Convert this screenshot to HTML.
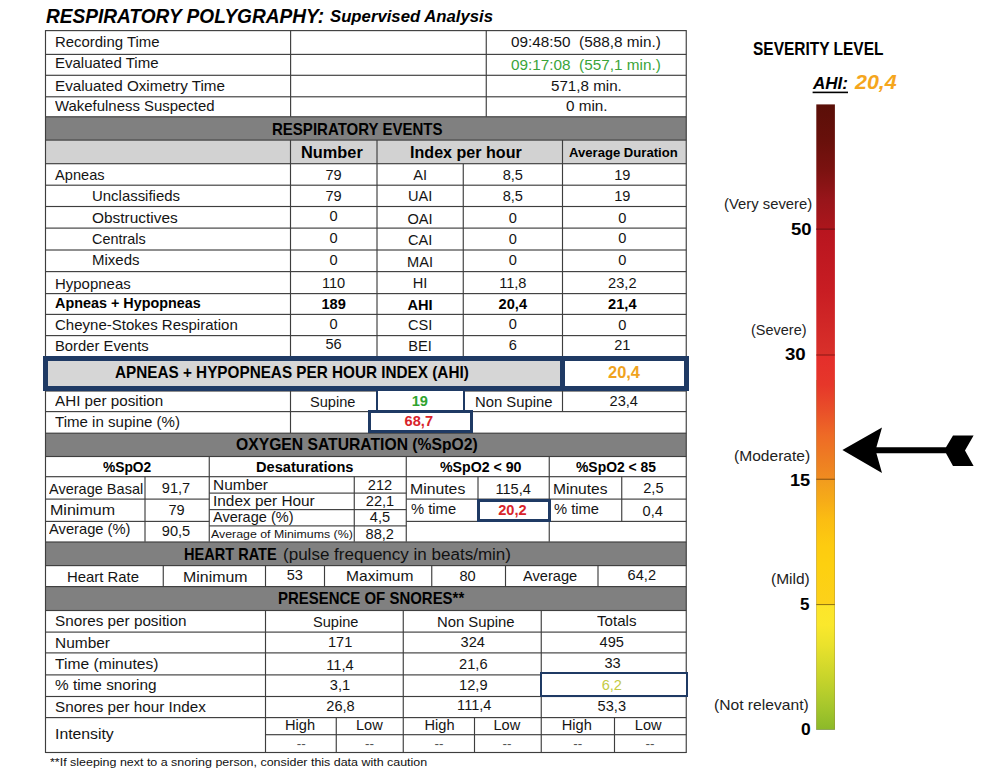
<!DOCTYPE html>
<html><head><meta charset="utf-8"><title>Respiratory Polygraphy</title>
<style>
html,body{margin:0;padding:0;background:#fff;}
body{width:1000px;height:782px;position:relative;overflow:hidden;font-family:"Liberation Sans",sans-serif;}
.r{position:absolute;}
.t{position:absolute;white-space:pre;line-height:1;transform-origin:0 0;}
.b{position:absolute;box-sizing:border-box;border-style:solid;border-color:#1f3a64;}
</style></head><body>
<svg class="r" style="left:0;top:0" width="700" height="782" viewBox="0 0 700 782">
<rect x="45.50" y="116.80" width="640.75" height="23.30" fill="#808080"/>
<rect x="45.50" y="140.10" width="640.75" height="23.60" fill="#d2d2d2"/>
<rect x="45.50" y="433.20" width="640.75" height="23.30" fill="#808080"/>
<rect x="45.50" y="542.00" width="640.75" height="23.60" fill="#808080"/>
<rect x="45.50" y="586.60" width="640.75" height="23.90" fill="#808080"/>
<rect x="45.50" y="30.03" width="640.75" height="1.15" fill="#3e3e3e"/>
<rect x="45.50" y="53.82" width="640.75" height="1.15" fill="#3e3e3e"/>
<rect x="45.50" y="74.72" width="640.75" height="1.15" fill="#3e3e3e"/>
<rect x="45.50" y="96.22" width="640.75" height="1.15" fill="#3e3e3e"/>
<rect x="45.50" y="116.22" width="640.75" height="1.15" fill="#3e3e3e"/>
<rect x="45.50" y="139.53" width="640.75" height="1.15" fill="#3e3e3e"/>
<rect x="45.50" y="163.12" width="640.75" height="1.15" fill="#3e3e3e"/>
<rect x="45.50" y="184.62" width="640.75" height="1.15" fill="#3e3e3e"/>
<rect x="45.50" y="205.93" width="640.75" height="1.15" fill="#3e3e3e"/>
<rect x="45.50" y="227.53" width="640.75" height="1.15" fill="#3e3e3e"/>
<rect x="45.50" y="249.43" width="640.75" height="1.15" fill="#3e3e3e"/>
<rect x="45.50" y="271.03" width="640.75" height="1.15" fill="#3e3e3e"/>
<rect x="45.50" y="293.03" width="640.75" height="1.15" fill="#3e3e3e"/>
<rect x="45.50" y="313.82" width="640.75" height="1.15" fill="#3e3e3e"/>
<rect x="45.50" y="335.03" width="640.75" height="1.15" fill="#3e3e3e"/>
<rect x="45.50" y="411.03" width="640.75" height="1.15" fill="#3e3e3e"/>
<rect x="45.50" y="432.62" width="640.75" height="1.15" fill="#3e3e3e"/>
<rect x="45.50" y="455.93" width="640.75" height="1.15" fill="#3e3e3e"/>
<rect x="45.50" y="476.12" width="640.75" height="1.15" fill="#3e3e3e"/>
<rect x="45.50" y="541.42" width="640.75" height="1.15" fill="#3e3e3e"/>
<rect x="45.50" y="565.02" width="640.75" height="1.15" fill="#3e3e3e"/>
<rect x="45.50" y="586.02" width="640.75" height="1.15" fill="#3e3e3e"/>
<rect x="45.50" y="609.92" width="640.75" height="1.15" fill="#3e3e3e"/>
<rect x="45.50" y="631.52" width="640.75" height="1.15" fill="#3e3e3e"/>
<rect x="45.50" y="652.32" width="640.75" height="1.15" fill="#3e3e3e"/>
<rect x="45.50" y="674.32" width="640.75" height="1.15" fill="#3e3e3e"/>
<rect x="45.50" y="695.92" width="640.75" height="1.15" fill="#3e3e3e"/>
<rect x="45.50" y="717.02" width="640.75" height="1.15" fill="#3e3e3e"/>
<rect x="45.50" y="751.92" width="640.75" height="1.15" fill="#3e3e3e"/>
<rect x="45.50" y="390.43" width="640.75" height="1.15" fill="#3e3e3e"/>
<rect x="44.92" y="30.10" width="1.15" height="722.90" fill="#3e3e3e"/>
<rect x="685.67" y="30.10" width="1.15" height="722.90" fill="#3e3e3e"/>
<rect x="290.03" y="30.60" width="1.15" height="86.20" fill="#3e3e3e"/>
<rect x="485.68" y="30.60" width="1.15" height="86.20" fill="#3e3e3e"/>
<rect x="289.93" y="140.00" width="1.15" height="24.00" fill="#3e3e3e"/>
<rect x="376.43" y="140.00" width="1.15" height="24.00" fill="#3e3e3e"/>
<rect x="561.92" y="140.00" width="1.15" height="24.00" fill="#3e3e3e"/>
<rect x="289.93" y="164.00" width="1.15" height="192.00" fill="#3e3e3e"/>
<rect x="376.43" y="164.00" width="1.15" height="192.00" fill="#3e3e3e"/>
<rect x="462.68" y="164.00" width="1.15" height="192.00" fill="#3e3e3e"/>
<rect x="561.92" y="164.00" width="1.15" height="192.00" fill="#3e3e3e"/>
<rect x="289.93" y="391.00" width="1.15" height="42.00" fill="#3e3e3e"/>
<rect x="561.92" y="391.00" width="1.15" height="20.75" fill="#3e3e3e"/>
<rect x="208.68" y="456.25" width="1.15" height="85.50" fill="#3e3e3e"/>
<rect x="405.68" y="456.25" width="1.15" height="85.50" fill="#3e3e3e"/>
<rect x="548.67" y="456.25" width="1.15" height="85.50" fill="#3e3e3e"/>
<rect x="144.43" y="476.75" width="1.15" height="65.00" fill="#3e3e3e"/>
<rect x="353.68" y="476.75" width="1.15" height="65.00" fill="#3e3e3e"/>
<rect x="477.43" y="476.75" width="1.15" height="44.50" fill="#3e3e3e"/>
<rect x="621.17" y="476.75" width="1.15" height="44.50" fill="#3e3e3e"/>
<rect x="45.50" y="498.53" width="163.75" height="1.15" fill="#3e3e3e"/>
<rect x="406.25" y="498.53" width="280.00" height="1.15" fill="#3e3e3e"/>
<rect x="45.50" y="520.82" width="163.75" height="1.15" fill="#3e3e3e"/>
<rect x="406.25" y="520.82" width="280.00" height="1.15" fill="#3e3e3e"/>
<rect x="209.25" y="492.53" width="197.00" height="1.15" fill="#3e3e3e"/>
<rect x="209.25" y="509.03" width="197.00" height="1.15" fill="#3e3e3e"/>
<rect x="209.25" y="525.32" width="197.00" height="1.15" fill="#3e3e3e"/>
<rect x="162.68" y="565.50" width="1.15" height="21.50" fill="#3e3e3e"/>
<rect x="264.93" y="565.50" width="1.15" height="21.50" fill="#3e3e3e"/>
<rect x="323.93" y="565.50" width="1.15" height="21.50" fill="#3e3e3e"/>
<rect x="431.18" y="565.50" width="1.15" height="21.50" fill="#3e3e3e"/>
<rect x="504.93" y="565.50" width="1.15" height="21.50" fill="#3e3e3e"/>
<rect x="597.42" y="565.50" width="1.15" height="21.50" fill="#3e3e3e"/>
<rect x="264.93" y="610.50" width="1.15" height="142.00" fill="#3e3e3e"/>
<rect x="402.68" y="610.50" width="1.15" height="142.00" fill="#3e3e3e"/>
<rect x="540.67" y="610.50" width="1.15" height="142.00" fill="#3e3e3e"/>
<rect x="335.68" y="717.50" width="1.15" height="35.00" fill="#3e3e3e"/>
<rect x="473.93" y="717.50" width="1.15" height="35.00" fill="#3e3e3e"/>
<rect x="613.92" y="717.50" width="1.15" height="35.00" fill="#3e3e3e"/>
<rect x="265.50" y="734.12" width="420.75" height="1.15" fill="#3e3e3e"/>
</svg>
<div class="r" style="left:45px;top:358px;width:516px;height:31px;background:#d6d6d6"></div>
<div class="r" style="left:559.75px;top:356px;width:5px;height:35px;background:#1f3a64"></div>
<div class="b" style="left:43.00px;top:356.00px;width:645.75px;height:35.00px;border-width:5.00px;"></div>
<div class="b" style="left:375.60px;top:389.00px;width:89.40px;height:23.00px;border-width:2.50px;background:#fff;"></div>
<div class="b" style="left:367.90px;top:410.40px;width:105.00px;height:23.10px;border-width:3.00px;background:#fff;"></div>
<div class="b" style="left:476.75px;top:498.50px;width:73.75px;height:23.75px;border-width:3.00px;background:#fff;"></div>
<div class="b" style="left:540.20px;top:672.40px;width:147.80px;height:24.80px;border-width:2.70px;background:#fff;"></div>
<svg class="r" style="left:700px;top:0" width="300" height="782" viewBox="700 0 300 782">
<defs><linearGradient id="g" x1="0" y1="0" x2="0" y2="1">
<stop offset="0.0000" stop-color="#5a0f08"/>
<stop offset="0.0570" stop-color="#68100b"/>
<stop offset="0.1050" stop-color="#7b1210"/>
<stop offset="0.1530" stop-color="#98151a"/>
<stop offset="0.1990" stop-color="#ac161c"/>
<stop offset="0.2006" stop-color="#b8151f"/>
<stop offset="0.2970" stop-color="#c81d23"/>
<stop offset="0.3997" stop-color="#d9302a"/>
<stop offset="0.4016" stop-color="#e42e2b"/>
<stop offset="0.4490" stop-color="#e6372a"/>
<stop offset="0.4890" stop-color="#e94f29"/>
<stop offset="0.5290" stop-color="#ee6a26"/>
<stop offset="0.5690" stop-color="#ee7e22"/>
<stop offset="0.5994" stop-color="#f08c20"/>
<stop offset="0.6010" stop-color="#f29c1e"/>
<stop offset="0.6330" stop-color="#f6ab18"/>
<stop offset="0.6650" stop-color="#fbbd12"/>
<stop offset="0.7050" stop-color="#fdcb10"/>
<stop offset="0.7370" stop-color="#fdd010"/>
<stop offset="0.7994" stop-color="#fcd11a"/>
<stop offset="0.8013" stop-color="#fde52a"/>
<stop offset="0.8330" stop-color="#fae82c"/>
<stop offset="0.8650" stop-color="#eae22c"/>
<stop offset="0.9210" stop-color="#c5d32b"/>
<stop offset="0.9530" stop-color="#aeca2c"/>
<stop offset="0.9850" stop-color="#96bf2a"/>
<stop offset="1.0000" stop-color="#8cb929"/>
</linearGradient></defs>
<rect x="816.3" y="104.4" width="18.6" height="625" fill="url(#g)"/>
<rect x="816.3" y="380" width="0.6" height="349.6" fill="#7a5a10" opacity="0.45"/>
<rect x="834.2" y="380" width="0.6" height="349.6" fill="#7a5a10" opacity="0.45"/>
<rect x="816.3" y="729" width="18.5" height="0.8" fill="#5d7a1c" opacity="0.7"/>
<rect x="816.3" y="228.5" width="18.5" height="1.3" fill="#6e1014" opacity="0.85"/>
<rect x="816.3" y="354.4" width="18.5" height="1.2" fill="#8a1a16" opacity="0.85"/>
<rect x="816.3" y="478.7" width="18.5" height="1.1" fill="#7a4a10" opacity="0.85"/>
<rect x="816.3" y="604" width="18.5" height="1.1" fill="#7a5f10" opacity="0.8"/>
<rect x="812.6" y="91.6" width="35.4" height="1.6" fill="#000"/>
<path d="M842.4 450 L882 427.6 L876.4 447.2 L946 447.2 L953 435.6 L973.6 435.6 L965 450.5 L973.6 466 L953 466 L946 453.2 L876.4 453.2 L882 473 Z" fill="#000"/>
</svg>
<span class="t" style="left:46.00px;top:6.00px;font-size:20.30px;color:#000;font-weight:700;font-style:italic;transform:scaleX(0.9403);">RESPIRATORY POLYGRAPHY:</span>
<span class="t" style="left:330.00px;top:8.00px;font-size:17.00px;color:#000;font-weight:700;font-style:italic;transform:scaleX(0.9839);">Supervised Analysis</span>
<span class="t" style="left:55.10px;top:35.00px;font-size:14.60px;color:#141414;transform:scaleX(1.0225);">Recording Time</span>
<span class="t" style="left:55.10px;top:56.00px;font-size:14.60px;color:#141414;transform:scaleX(1.0289);">Evaluated Time</span>
<span class="t" style="left:55.10px;top:79.00px;font-size:14.60px;color:#141414;transform:scaleX(1.0427);">Evaluated Oximetry Time</span>
<span class="t" style="left:55.10px;top:99.00px;font-size:14.60px;color:#141414;transform:scaleX(1.0222);">Wakefulness Suspected</span>
<span class="t" style="left:510.75px;top:35.00px;font-size:14.60px;color:#141414;transform:scaleX(1.0488);">09:48:50  (588,8 min.)</span>
<span class="t" style="left:510.75px;top:58.00px;font-size:14.60px;color:#3aa43a;transform:scaleX(1.0488);">09:17:08  (557,1 min.)</span>
<span class="t" style="left:551.20px;top:79.00px;font-size:14.60px;color:#141414;transform:scaleX(1.0388);">571,8 min.</span>
<span class="t" style="left:565.70px;top:99.00px;font-size:14.60px;color:#141414;transform:scaleX(1.0465);">0 min.</span>
<span class="t" style="left:272.00px;top:121.00px;font-size:16.20px;color:#000;font-weight:700;transform:scaleX(0.9276);">RESPIRATORY EVENTS</span>
<span class="t" style="left:301.25px;top:144.00px;font-size:16.20px;color:#000;font-weight:700;transform:scaleX(1.0095);">Number</span>
<span class="t" style="left:409.50px;top:144.00px;font-size:16.20px;color:#000;font-weight:700;transform:scaleX(0.9939);">Index per hour</span>
<span class="t" style="left:568.75px;top:147.00px;font-size:12.90px;color:#000;font-weight:700;transform:scaleX(1.0165);">Average Duration</span>
<span class="t" style="left:55.10px;top:168.00px;font-size:14.60px;color:#141414;">Apneas</span>
<span class="t" style="left:325.48px;top:168.00px;font-size:14.60px;color:#141414;">79</span>
<span class="t" style="left:413.20px;top:168.00px;font-size:14.60px;color:#141414;">AI</span>
<span class="t" style="left:502.65px;top:168.00px;font-size:14.60px;color:#141414;">8,5</span>
<span class="t" style="left:614.18px;top:168.00px;font-size:14.60px;color:#141414;">19</span>
<span class="t" style="left:92.00px;top:189.00px;font-size:14.60px;color:#141414;transform:scaleX(1.0234);">Unclassifieds</span>
<span class="t" style="left:325.48px;top:189.00px;font-size:14.60px;color:#141414;">79</span>
<span class="t" style="left:407.94px;top:189.00px;font-size:14.60px;color:#141414;">UAI</span>
<span class="t" style="left:502.65px;top:189.00px;font-size:14.60px;color:#141414;">8,5</span>
<span class="t" style="left:614.18px;top:189.00px;font-size:14.60px;color:#141414;">19</span>
<span class="t" style="left:92.00px;top:211.00px;font-size:14.60px;color:#141414;transform:scaleX(1.0572);">Obstructives</span>
<span class="t" style="left:329.54px;top:209.00px;font-size:14.60px;color:#141414;">0</span>
<span class="t" style="left:407.53px;top:212.00px;font-size:14.60px;color:#141414;">OAI</span>
<span class="t" style="left:508.74px;top:211.00px;font-size:14.60px;color:#141414;">0</span>
<span class="t" style="left:618.24px;top:211.00px;font-size:14.60px;color:#141414;">0</span>
<span class="t" style="left:92.00px;top:232.00px;font-size:14.60px;color:#141414;transform:scaleX(0.9891);">Centrals</span>
<span class="t" style="left:329.54px;top:231.00px;font-size:14.60px;color:#141414;">0</span>
<span class="t" style="left:407.94px;top:233.00px;font-size:14.60px;color:#141414;">CAI</span>
<span class="t" style="left:508.74px;top:232.00px;font-size:14.60px;color:#141414;">0</span>
<span class="t" style="left:618.24px;top:231.00px;font-size:14.60px;color:#141414;">0</span>
<span class="t" style="left:92.00px;top:253.00px;font-size:14.60px;color:#141414;transform:scaleX(1.0274);">Mixeds</span>
<span class="t" style="left:329.54px;top:253.00px;font-size:14.60px;color:#141414;">0</span>
<span class="t" style="left:407.12px;top:255.00px;font-size:14.60px;color:#141414;">MAI</span>
<span class="t" style="left:508.74px;top:253.00px;font-size:14.60px;color:#141414;">0</span>
<span class="t" style="left:618.24px;top:253.00px;font-size:14.60px;color:#141414;">0</span>
<span class="t" style="left:55.10px;top:277.00px;font-size:14.60px;color:#141414;transform:scaleX(1.0258);">Hypopneas</span>
<span class="t" style="left:321.97px;top:276.00px;font-size:14.60px;color:#141414;">110</span>
<span class="t" style="left:412.80px;top:276.00px;font-size:14.60px;color:#141414;">HI</span>
<span class="t" style="left:499.14px;top:276.00px;font-size:14.60px;color:#141414;">11,8</span>
<span class="t" style="left:608.10px;top:276.00px;font-size:14.60px;color:#141414;">23,2</span>
<span class="t" style="left:55.10px;top:296.00px;font-size:14.60px;color:#000;font-weight:700;transform:scaleX(0.9847);">Apneas + Hypopneas</span>
<span class="t" style="left:321.42px;top:297.00px;font-size:14.60px;color:#000;font-weight:700;">189</span>
<span class="t" style="left:407.53px;top:298.00px;font-size:14.60px;color:#000;font-weight:700;">AHI</span>
<span class="t" style="left:498.60px;top:297.00px;font-size:14.60px;color:#000;font-weight:700;">20,4</span>
<span class="t" style="left:608.10px;top:297.00px;font-size:14.60px;color:#000;font-weight:700;">21,4</span>
<span class="t" style="left:55.10px;top:318.00px;font-size:14.60px;color:#141414;transform:scaleX(1.0287);">Cheyne-Stokes Respiration</span>
<span class="t" style="left:329.54px;top:317.00px;font-size:14.60px;color:#141414;">0</span>
<span class="t" style="left:407.94px;top:318.00px;font-size:14.60px;color:#141414;">CSI</span>
<span class="t" style="left:508.74px;top:317.00px;font-size:14.60px;color:#141414;">0</span>
<span class="t" style="left:618.24px;top:318.00px;font-size:14.60px;color:#141414;">0</span>
<span class="t" style="left:55.10px;top:339.00px;font-size:14.60px;color:#141414;transform:scaleX(1.0137);">Border Events</span>
<span class="t" style="left:325.48px;top:337.00px;font-size:14.60px;color:#141414;">56</span>
<span class="t" style="left:408.33px;top:339.00px;font-size:14.60px;color:#141414;">BEI</span>
<span class="t" style="left:508.74px;top:338.00px;font-size:14.60px;color:#141414;">6</span>
<span class="t" style="left:614.18px;top:338.00px;font-size:14.60px;color:#141414;">21</span>
<span class="t" style="left:114.50px;top:365.00px;font-size:15.70px;color:#000;font-weight:700;transform:scaleX(0.9744);">APNEAS + HYPOPNEAS PER HOUR INDEX (AHI)</span>
<span class="t" style="left:607.80px;top:365.00px;font-size:15.70px;color:#f0a31e;font-weight:700;transform:scaleX(1.0476);">20,4</span>
<span class="t" style="left:55.10px;top:394.00px;font-size:14.60px;color:#141414;transform:scaleX(1.0424);">AHI per position</span>
<span class="t" style="left:309.50px;top:395.00px;font-size:14.60px;color:#141414;transform:scaleX(1.0010);">Supine</span>
<span class="t" style="left:411.68px;top:394.00px;font-size:14.60px;color:#2fa32f;font-weight:700;">19</span>
<span class="t" style="left:475.00px;top:395.00px;font-size:14.60px;color:#141414;transform:scaleX(1.0160);">Non Supine</span>
<span class="t" style="left:609.55px;top:394.00px;font-size:14.60px;color:#141414;">23,4</span>
<span class="t" style="left:55.10px;top:415.00px;font-size:14.60px;color:#141414;transform:scaleX(1.0320);">Time in supine (%)</span>
<span class="t" style="left:404.60px;top:414.00px;font-size:14.60px;color:#d8232a;font-weight:700;">68,7</span>
<span class="t" style="left:236.25px;top:436.00px;font-size:16.20px;color:#000;font-weight:700;transform:scaleX(0.9692);">OXYGEN SATURATION (%SpO2)</span>
<span class="t" style="left:103.00px;top:460.00px;font-size:14.00px;color:#000;font-weight:700;transform:scaleX(0.9844);">%SpO2</span>
<span class="t" style="left:255.50px;top:460.00px;font-size:14.00px;color:#000;font-weight:700;transform:scaleX(1.0444);">Desaturations</span>
<span class="t" style="left:440.00px;top:460.00px;font-size:14.00px;color:#000;font-weight:700;transform:scaleX(1.0118);">%SpO2 &lt; 90</span>
<span class="t" style="left:576.25px;top:460.00px;font-size:14.00px;color:#000;font-weight:700;transform:scaleX(0.9932);">%SpO2 &lt; 85</span>
<span class="t" style="left:48.50px;top:482.00px;font-size:14.60px;color:#141414;transform:scaleX(0.9952);">Average Basal</span>
<span class="t" style="left:161.80px;top:481.00px;font-size:14.60px;color:#141414;">91,7</span>
<span class="t" style="left:49.50px;top:503.00px;font-size:14.60px;color:#141414;transform:scaleX(1.0982);">Minimum</span>
<span class="t" style="left:168.38px;top:503.00px;font-size:14.60px;color:#141414;">79</span>
<span class="t" style="left:48.50px;top:522.00px;font-size:14.60px;color:#141414;transform:scaleX(1.0081);">Average (%)</span>
<span class="t" style="left:161.80px;top:524.00px;font-size:14.60px;color:#141414;">90,5</span>
<span class="t" style="left:212.50px;top:478.00px;font-size:14.60px;color:#141414;transform:scaleX(1.0596);">Number</span>
<span class="t" style="left:367.82px;top:478.00px;font-size:14.60px;color:#141414;">212</span>
<span class="t" style="left:212.50px;top:494.00px;font-size:14.60px;color:#141414;transform:scaleX(1.0539);">Index per Hour</span>
<span class="t" style="left:365.80px;top:494.00px;font-size:14.60px;color:#141414;">22,1</span>
<span class="t" style="left:212.50px;top:510.00px;font-size:14.60px;color:#141414;transform:scaleX(0.9957);">Average (%)</span>
<span class="t" style="left:369.85px;top:510.00px;font-size:14.60px;color:#141414;">4,5</span>
<span class="t" style="left:211.25px;top:528.00px;font-size:11.60px;color:#141414;transform:scaleX(1.0645);">Average of Minimums (%)</span>
<span class="t" style="left:365.55px;top:527.00px;font-size:14.60px;color:#141414;">88,2</span>
<span class="t" style="left:410.20px;top:482.00px;font-size:14.60px;color:#141414;transform:scaleX(1.0820);">Minutes</span>
<span class="t" style="left:495.38px;top:482.00px;font-size:14.60px;color:#141414;">115,4</span>
<span class="t" style="left:410.70px;top:502.00px;font-size:14.60px;color:#141414;transform:scaleX(1.0110);">% time</span>
<span class="t" style="left:498.20px;top:503.00px;font-size:14.60px;color:#d8232a;font-weight:700;">20,2</span>
<span class="t" style="left:552.50px;top:482.00px;font-size:14.60px;color:#141414;transform:scaleX(1.0663);">Minutes</span>
<span class="t" style="left:643.25px;top:481.00px;font-size:14.60px;color:#141414;">2,5</span>
<span class="t" style="left:553.75px;top:502.00px;font-size:14.60px;color:#141414;transform:scaleX(1.0088);">% time</span>
<span class="t" style="left:642.60px;top:504.00px;font-size:14.60px;color:#141414;">0,4</span>
<span class="t" style="left:184.25px;top:546.00px;font-size:16.20px;color:#000;font-weight:700;transform:scaleX(0.8989);">HEART RATE</span>
<span class="t" style="left:282.80px;top:547.00px;font-size:16.00px;color:#111;transform:scaleX(1.0638);">(pulse frequency in beats/min)</span>
<span class="t" style="left:66.75px;top:570.00px;font-size:14.60px;color:#141414;transform:scaleX(1.0201);">Heart Rate</span>
<span class="t" style="left:183.00px;top:570.00px;font-size:14.60px;color:#141414;transform:scaleX(1.0898);">Minimum</span>
<span class="t" style="left:286.63px;top:568.00px;font-size:14.60px;color:#141414;">53</span>
<span class="t" style="left:346.25px;top:569.00px;font-size:14.60px;color:#141414;transform:scaleX(1.0672);">Maximum</span>
<span class="t" style="left:459.48px;top:569.00px;font-size:14.60px;color:#141414;">80</span>
<span class="t" style="left:523.25px;top:569.00px;font-size:14.60px;color:#141414;transform:scaleX(1.0029);">Average</span>
<span class="t" style="left:627.60px;top:568.00px;font-size:14.60px;color:#141414;">64,2</span>
<span class="t" style="left:278.00px;top:590.00px;font-size:16.20px;color:#000;font-weight:700;transform:scaleX(0.9243);">PRESENCE OF SNORES**</span>
<span class="t" style="left:55.10px;top:614.00px;font-size:14.60px;color:#141414;transform:scaleX(1.0457);">Snores per position</span>
<span class="t" style="left:55.10px;top:636.00px;font-size:14.60px;color:#141414;transform:scaleX(1.0596);">Number</span>
<span class="t" style="left:55.10px;top:657.00px;font-size:14.60px;color:#141414;transform:scaleX(1.0696);">Time (minutes)</span>
<span class="t" style="left:55.10px;top:678.00px;font-size:14.60px;color:#141414;transform:scaleX(1.0515);">% time snoring</span>
<span class="t" style="left:55.10px;top:700.00px;font-size:14.60px;color:#141414;transform:scaleX(1.0439);">Snores per hour Index</span>
<span class="t" style="left:55.10px;top:727.00px;font-size:14.60px;color:#141414;transform:scaleX(1.0808);">Intensity</span>
<span class="t" style="left:312.50px;top:615.00px;font-size:14.60px;color:#141414;transform:scaleX(1.0010);">Supine</span>
<span class="t" style="left:327.92px;top:635.00px;font-size:14.60px;color:#141414;">171</span>
<span class="t" style="left:326.34px;top:658.00px;font-size:14.60px;color:#141414;">11,4</span>
<span class="t" style="left:329.85px;top:678.00px;font-size:14.60px;color:#141414;">3,1</span>
<span class="t" style="left:326.30px;top:699.00px;font-size:14.60px;color:#141414;">26,8</span>
<span class="t" style="left:437.40px;top:615.00px;font-size:14.60px;color:#141414;transform:scaleX(1.0173);">Non Supine</span>
<span class="t" style="left:460.52px;top:635.00px;font-size:14.60px;color:#141414;">324</span>
<span class="t" style="left:459.10px;top:657.00px;font-size:14.60px;color:#141414;">21,6</span>
<span class="t" style="left:459.10px;top:678.00px;font-size:14.60px;color:#141414;">12,9</span>
<span class="t" style="left:457.12px;top:698.00px;font-size:14.60px;color:#141414;">111,4</span>
<span class="t" style="left:596.50px;top:614.00px;font-size:14.60px;color:#141414;transform:scaleX(1.0361);">Totals</span>
<span class="t" style="left:599.52px;top:635.00px;font-size:14.60px;color:#141414;">495</span>
<span class="t" style="left:604.38px;top:656.00px;font-size:14.60px;color:#141414;">33</span>
<span class="t" style="left:601.65px;top:678.00px;font-size:14.60px;color:#c4ca44;">6,2</span>
<span class="t" style="left:597.60px;top:699.00px;font-size:14.60px;color:#141414;">53,3</span>
<span class="t" style="left:284.99px;top:718.00px;font-size:14.60px;color:#141414;">High</span>
<span class="t" style="left:424.49px;top:718.00px;font-size:14.60px;color:#141414;">High</span>
<span class="t" style="left:561.79px;top:718.00px;font-size:14.60px;color:#141414;">High</span>
<span class="t" style="left:356.01px;top:718.00px;font-size:14.60px;color:#141414;">Low</span>
<span class="t" style="left:493.51px;top:718.00px;font-size:14.60px;color:#141414;">Low</span>
<span class="t" style="left:634.81px;top:718.00px;font-size:14.60px;color:#141414;">Low</span>
<span class="t" style="left:296.75px;top:737.00px;font-size:13.50px;color:#555;">--</span>
<span class="t" style="left:365.00px;top:737.00px;font-size:13.50px;color:#555;">--</span>
<span class="t" style="left:434.50px;top:737.00px;font-size:13.50px;color:#555;">--</span>
<span class="t" style="left:502.40px;top:737.00px;font-size:13.50px;color:#555;">--</span>
<span class="t" style="left:573.30px;top:737.00px;font-size:13.50px;color:#555;">--</span>
<span class="t" style="left:645.50px;top:737.00px;font-size:13.50px;color:#555;">--</span>
<span class="t" style="left:49.50px;top:757.00px;font-size:11.80px;color:#111;transform:scaleX(1.0554);">**If sleeping next to a snoring person, consider this data with caution</span>
<span class="t" style="left:753.30px;top:41.00px;font-size:17.70px;color:#000;font-weight:700;transform:scaleX(0.8747);">SEVERITY LEVEL</span>
<span class="t" style="left:812.50px;top:75.00px;font-size:17.00px;color:#000;font-weight:700;font-style:italic;transform:scaleX(1.0013);">AHI:</span>
<span class="t" style="left:855.00px;top:72.00px;font-size:20.00px;color:#f5a61d;font-weight:700;font-style:italic;transform:scaleX(1.0722);">20,4</span>
<span class="t" style="left:723.80px;top:197.00px;font-size:14.40px;color:#222;transform:scaleX(1.0312);">(Very severe)</span>
<span class="t" style="left:791.00px;top:222.00px;font-size:16.60px;color:#000;font-weight:700;transform:scaleX(1.1154);">50</span>
<span class="t" style="left:750.70px;top:323.00px;font-size:14.40px;color:#222;transform:scaleX(1.0057);">(Severe)</span>
<span class="t" style="left:785.20px;top:347.00px;font-size:16.60px;color:#000;font-weight:700;transform:scaleX(1.1235);">30</span>
<span class="t" style="left:733.70px;top:449.00px;font-size:14.40px;color:#222;transform:scaleX(1.0832);">(Moderate)</span>
<span class="t" style="left:789.70px;top:473.00px;font-size:16.60px;color:#000;font-weight:700;transform:scaleX(1.0964);">15</span>
<span class="t" style="left:771.10px;top:572.00px;font-size:14.40px;color:#222;transform:scaleX(1.0769);">(Mild)</span>
<span class="t" style="left:800.20px;top:597.00px;font-size:16.60px;color:#000;font-weight:700;transform:scaleX(1.0288);">5</span>
<span class="t" style="left:714.10px;top:698.00px;font-size:14.40px;color:#222;transform:scaleX(1.0862);">(Not relevant)</span>
<span class="t" style="left:800.80px;top:722.00px;font-size:16.60px;color:#000;font-weight:700;transform:scaleX(1.0504);">0</span>
</body></html>
